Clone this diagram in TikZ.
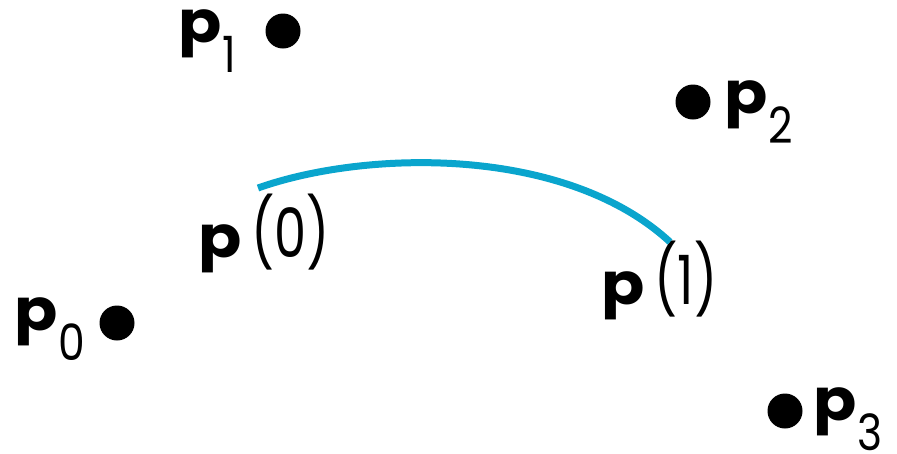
\documentclass[tikz,border=0pt]{standalone}
\usepackage{fontspec}
\setmainfont{Poppins}
\definecolor{curvecol}{RGB}{10,165,205}
\newcommand\pbold{\scalebox{1.1}[1]{\fontsize{58}{60}\selectfont\bfseries p}}
\newcommand\psub[1]{\pbold\kern1pt\raisebox{-30pt}{\scalebox{0.85}[1]{\fontsize{50}{52}\selectfont #1}}}
\newcommand\parg[1]{\pbold\kern10pt\scalebox{0.75}[1]{\fontsize{68}{70}\selectfont(#1)}}
\tikzset{
  ctrlpt/.style={circle,fill=black,inner sep=0pt,minimum size=35pt},
  lab/.style={inner sep=0pt,anchor=base west},
  curv/.style={draw=curvecol,line width=7pt}
}
\begin{document}
\begin{tikzpicture}[x=1pt,y=-1pt]
\useasboundingbox (0,0) rectangle (897,453);
\node[ctrlpt] (d0) at (117,323) {};
\node[ctrlpt] (d1) at (283,31) {};
\node[ctrlpt] (d2) at (693,102) {};
\node[ctrlpt] (d3) at (785,411) {};
\node[lab] (l0) at (14,330) {\psub{0}};
\node[lab] (l1) at (178,42) {\psub{1}};
\node[lab] (l2) at (724,113) {\psub{2}};
\node[lab] (l3) at (813,420) {\psub{3}};
\node[lab] (q0) at (198,257) {\parg{0}};
\node[lab] (q1) at (601,304) {\parg{1}};
\coordinate (c0) at (258,188);
\coordinate (c1) at (670,242);
\draw[curv] (c0) .. controls (365,150) and (565,145) .. (c1);
\end{tikzpicture}
\end{document}
